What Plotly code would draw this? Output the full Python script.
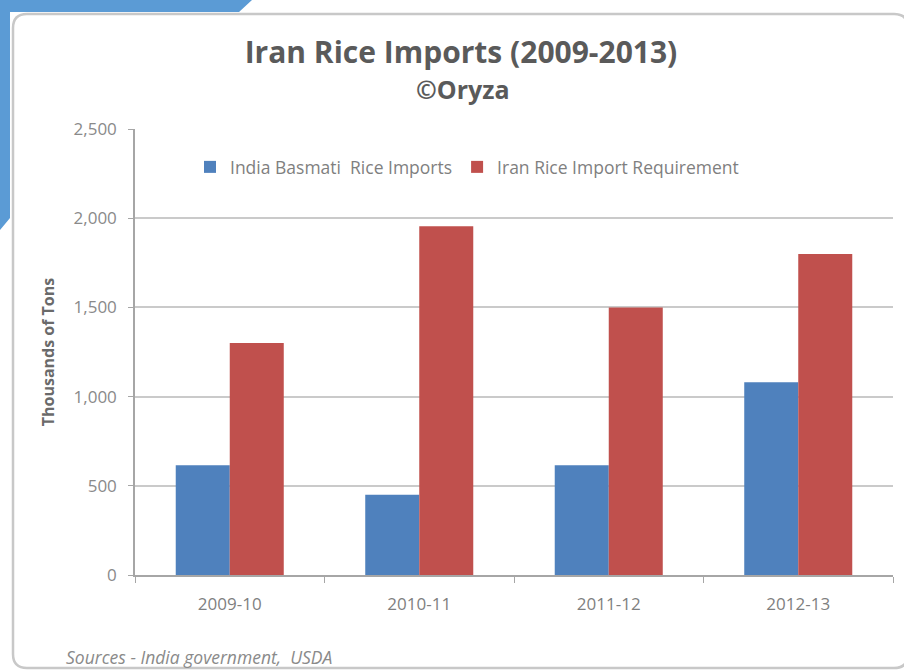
import plotly.graph_objects as go

categories = ["2009-10", "2010-11", "2011-12", "2012-13"]
india_basmati = [615, 450, 615, 1080]
iran_requirement = [1300, 1955, 1500, 1800]
y_ticks = [0, 500, 1000, 1500, 2000, 2500]

W, H = 904, 671
L, R, T, B = 135, 893, 129, 575

def px(x):
    return (x - L) / (R - L)

def py(y):
    return (B - y) / (B - T)

fig = go.Figure()
fig.add_trace(go.Bar(name="India Basmati  Rice Imports", x=categories, y=india_basmati,
                     marker=dict(color="#4f81bd", line=dict(width=0))))
fig.add_trace(go.Bar(name="Iran Rice Import Requirement", x=categories, y=iran_requirement,
                     marker=dict(color="#c0504d", line=dict(width=0))))

font_family = "'Open Sans', sans-serif"

# background decoration: blue banner and rounded frame
blue_path = "M {} {} L {} {} L {} {} L {} {} L {} {} L {} {} Z".format(
    px(0), py(0), px(252), py(0), px(239), py(12), px(10), py(12),
    px(10), py(218), px(0), py(230))
r = 14
x0, y0, x1, y1 = 13, 14, 908, 668
frame_path = ("M {a} {b} L {c} {b} Q {x1} {b} {x1} {d} L {x1} {e} Q {x1} {y1} {c} {y1} "
              "L {a} {y1} Q {x0} {y1} {x0} {e} L {x0} {d} Q {x0} {b} {a} {b} Z").format(
    a=px(x0 + r), b=py(y0), c=px(x1 - r), d=py(y0 + r), e=py(y1 - r),
    x0=px(x0), x1=px(x1), y1=py(y1))

fig.update_layout(
    width=W, height=H,
    margin=dict(l=L, r=W - R, t=T, b=H - B, autoexpand=False),
    paper_bgcolor="white", plot_bgcolor="white",
    barmode="group", bargap=0.43, bargroupgap=0,
    font=dict(family=font_family, color="#7f7f7f", size=15),
    title=dict(text="<b>Iran Rice Imports (2009-2013)</b>", xref="container", yref="container",
               x=461 / W, y=1 - 52 / H, xanchor="center", yanchor="middle",
               font=dict(size=30, color="#5a5a5a", family=font_family)),
    shapes=[
        dict(type="path", path=blue_path, xref="paper", yref="paper",
             fillcolor="#5b9bd5", line=dict(width=0), layer="below"),
        dict(type="path", path=frame_path, xref="paper", yref="paper",
             fillcolor="rgba(0,0,0,0)", line=dict(color="#c8c8c8", width=2.5), layer="below"),
    ],
    annotations=[
        dict(text="<b>©Oryza</b>", xref="paper", yref="paper", x=px(463), y=py(89),
             xanchor="center", yanchor="middle", showarrow=False,
             font=dict(size=25, color="#5a5a5a", family=font_family)),
        dict(text="<i>Sources - India government,  USDA</i>", xref="paper", yref="paper",
             x=px(64), y=py(657), xanchor="left", yanchor="middle", showarrow=False,
             font=dict(size=17.5, color="#8a8a8a", family=font_family)),
    ],
    legend=dict(orientation="h", x=px(190), y=py(167), xanchor="left", yanchor="middle",
                bgcolor="rgba(0,0,0,0)", font=dict(size=17.5, color="#7f7f7f"),
                itemwidth=30),
    xaxis=dict(type="category", automargin=False,
               showline=True, linecolor="#a6a6a6", linewidth=1.5,
               ticks="outside", tickson="boundaries", ticklen=6, tickcolor="#a6a6a6",
               tickfont=dict(size=17, color="#7f7f7f"), ticklabelstandoff=13,
               showgrid=False, fixedrange=True),
    yaxis=dict(automargin=False, range=[0, 2500], tickvals=y_ticks, tickformat=",",
               showline=True, linecolor="#a6a6a6", linewidth=1.5,
               ticks="outside", ticklen=5, tickcolor="#a6a6a6",
               tickfont=dict(size=17, color="#8a8a8a"), ticklabelstandoff=8,
               showgrid=True, gridcolor="#cacaca", gridwidth=2, zeroline=False,
               title=dict(text="<b>Thousands of Tons</b>", standoff=15,
                          font=dict(size=16, color="#6a6a6a"))),
)

fig.write_html("out.html", config={"displayModeBar": False},
               post_script="document.body.style.margin='0px';")
